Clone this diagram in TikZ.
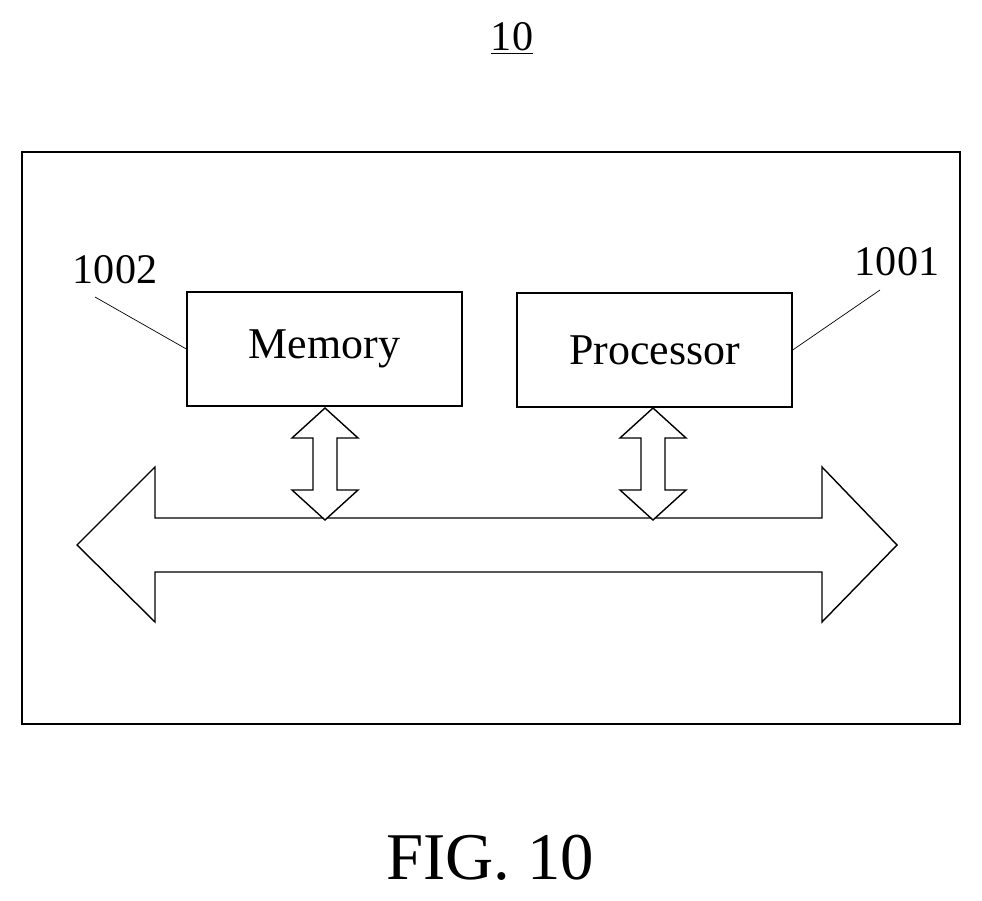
\documentclass[tikz,border=0pt]{standalone}
\usepackage{fontspec}
\setmainfont{Liberation Serif}
\usetikzlibrary{positioning}
\tikzset{
  blk/.style={draw,thick,minimum width=5.5cm,minimum height=2.28cm,font=\fontsize{25}{28}\selectfont},
  lbl/.style={font=\fontsize{24}{27}\selectfont},
  fat/.style={draw,thick,fill=white}
}
\begin{document}
\begin{tikzpicture}[x=0.02cm,y=-0.02cm]
\useasboundingbox (0,0) rectangle (982,901);
% Title
\node[lbl] (title) at (512,38) {\underline{10}};

% Outer frame
\draw[thick] (22,152) rectangle (960,724);

% Blocks
\node[blk] (mem) at (324.5,349) {Memory};
\node[blk] (proc) at (654.5,350) {Processor};

% Reference numerals
\node[lbl] (nmem) at (115,270) {1002};
\node[lbl] (nproc) at (897,262) {1001};
\coordinate (cmem) at (95,297);
\coordinate (cproc) at (880,290);
\draw (mem.west) -- (cmem);
\draw (proc.east) -- (cproc);

% Bus
\draw[fat] (77,545) -- (155,467) -- (155,518) -- (822,518) -- (822,467) -- (897,545)
  -- (822,622) -- (822,572) -- (155,572) -- (155,622) -- cycle;

% Vertical double arrows
\foreach \x/\n in {325/mem,653/proc}{
  \draw[fat] (\x,408) -- (\x+33,438) -- (\x+12,438) -- (\x+12,490) -- (\x+33,490) -- (\x,520)
    -- (\x-33,490) -- (\x-12,490) -- (\x-12,438) -- (\x-33,438) -- cycle;
}

% Caption
\node[font=\fontsize{38}{42}\selectfont] (fig) at (490,858) {FIG. 10};
\end{tikzpicture}
\end{document}
